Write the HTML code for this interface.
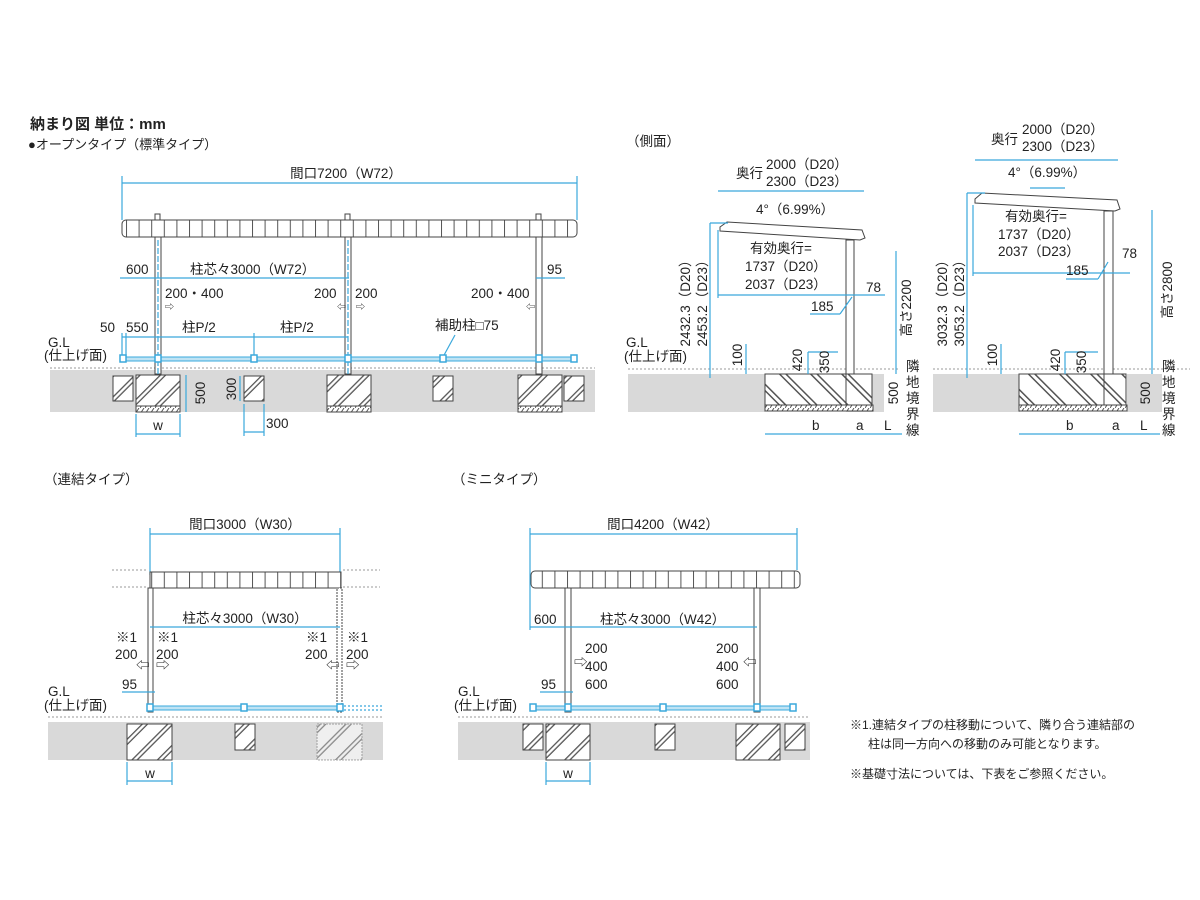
<!DOCTYPE html>
<html><head><meta charset="utf-8"><style>
html,body{margin:0;padding:0;background:#fff}
svg{display:block}
text{font-family:"Liberation Sans","Noto Sans CJK JP",sans-serif;fill:#222;font-size:13.5px}
.b{stroke:#3aa8dc;stroke-width:1.2;fill:none}
.k{stroke:#444;stroke-width:1;fill:none}
.g{fill:#d9d9d9}
.d{stroke:#999;stroke-width:1;stroke-dasharray:2 2;fill:none}
.sq{fill:#fff;stroke:#3aa8dc;stroke-width:1.5}
</style></head><body>
<svg width="1200" height="900" viewBox="0 0 1200 900" xmlns="http://www.w3.org/2000/svg">
<defs>
<pattern id="slat" width="12.6" height="20" patternUnits="userSpaceOnUse"><rect width="12.6" height="20" fill="#fff"/><line x1="0.5" y1="0" x2="0.5" y2="20" stroke="#555"/></pattern>
<pattern id="hat" width="18" height="18" patternUnits="userSpaceOnUse" patternTransform="rotate(45)"><rect width="18" height="18" fill="#fff"/><rect x="0" y="0" width="5" height="18" fill="#555"/><rect x="1.3" y="0" width="2.4" height="18" fill="#fff"/></pattern>
<pattern id="hat2" width="22" height="22" patternUnits="userSpaceOnUse" patternTransform="rotate(-45)"><rect width="22" height="22" fill="#fff"/><rect x="0" y="0" width="6" height="22" fill="#555"/><rect x="1.5" y="0" width="3" height="22" fill="#fff"/></pattern>
<pattern id="base" width="5" height="6" patternUnits="userSpaceOnUse"><rect width="5" height="6" fill="#fff"/><line x1="0" y1="6" x2="4" y2="0" stroke="#555"/></pattern>
</defs>

<text x="30" y="129" style="font-size:15px;font-weight:bold">納まり図 単位：mm</text>
<text x="28" y="149" style="font-size:13px">●オープンタイプ（標準タイプ）</text>

<!-- ===== Front view top ===== -->
<line class="b" x1="122" y1="183" x2="577" y2="183"/>
<line class="b" x1="122" y1="176" x2="122" y2="220"/><line class="b" x1="577" y1="176" x2="577" y2="220"/>
<text x="346" y="178" text-anchor="middle">間口7200（W72）</text>
<rect class="g" x="50" y="370" width="545" height="42"/>
<line class="d" x1="50" y1="368" x2="595" y2="368"/>
<rect x="122" y="220" width="455" height="17" fill="url(#slat)" stroke="#444" rx="4"/>
<rect x="155" y="214" width="5" height="6" class="k" fill="#fff"/><rect x="345" y="214" width="5" height="6" class="k"/><rect x="536" y="214" width="5" height="6" class="k"/>
<g fill="#fff" stroke="#444">
<rect x="155" y="237" width="6" height="137"/><rect x="345" y="237" width="6" height="137"/><rect x="536" y="237" width="6" height="137"/>
</g>
<line class="b" x1="158" y1="240" x2="158" y2="412" stroke-dasharray="6 2"/>
<line class="b" x1="348" y1="240" x2="348" y2="412" stroke-dasharray="6 2"/>
<line class="b" x1="120" y1="278" x2="349" y2="278"/><line class="b" x1="536" y1="278" x2="565" y2="278"/>
<text x="126" y="274">600</text><text x="190" y="274">柱芯々3000（W72）</text><text x="547" y="274">95</text>
<text x="165" y="298">200・400</text><text x="314" y="298">200</text><text x="355" y="298">200</text><text x="471" y="298">200・400</text>
<text x="165" y="310" style="font-size:9px">⇨</text><text x="337" y="310" style="font-size:9px">⇦</text><text x="356" y="310" style="font-size:9px">⇨</text><text x="526" y="310" style="font-size:9px">⇦</text>
<text x="100" y="332">50</text><text x="126" y="332">550</text><text x="182" y="332">柱P/2</text><text x="280" y="332">柱P/2</text><text x="435" y="330">補助柱□75</text>
<line class="b" x1="122" y1="337" x2="348" y2="337"/><line class="b" x1="254" y1="333" x2="254" y2="358"/>
<line class="b" x1="122" y1="333" x2="122" y2="358"/><line class="b" x1="126" y1="333" x2="126" y2="358"/>
<line class="b" x1="443" y1="357" x2="455" y2="335"/>
<text x="48" y="347">G.L</text><text x="44" y="360">(仕上げ面)</text>
<rect x="122" y="357" width="453" height="4" fill="#bfe3f4" stroke="#3aa8dc"/>
<g class="sq"><rect x="120" y="355" width="6" height="7"/><rect x="155" y="355" width="6" height="7"/><rect x="251" y="355" width="6" height="7"/><rect x="345" y="355" width="6" height="7"/><rect x="440" y="355" width="6" height="7"/><rect x="536" y="355" width="6" height="7"/><rect x="571" y="355" width="6" height="7"/></g>
<g stroke="#444">
<rect x="136" y="375" width="44" height="37" fill="url(#hat)"/><rect x="136" y="406" width="44" height="6" fill="url(#base)"/>
<rect x="327" y="375" width="44" height="37" fill="url(#hat)"/><rect x="327" y="406" width="44" height="6" fill="url(#base)"/>
<rect x="518" y="375" width="44" height="37" fill="url(#hat)"/><rect x="518" y="406" width="44" height="6" fill="url(#base)"/>
<rect x="113" y="376" width="20" height="25" fill="url(#hat)"/><rect x="244" y="376" width="20" height="25" fill="url(#hat)"/><rect x="433" y="376" width="20" height="25" fill="url(#hat)"/><rect x="564" y="376" width="20" height="25" fill="url(#hat)"/>
</g>
<text transform="translate(205,393) rotate(-90)" text-anchor="middle">500</text>
<text transform="translate(236,389) rotate(-90)" text-anchor="middle">300</text>
<line class="b" x1="186" y1="375" x2="186" y2="412"/><line class="b" x1="240" y1="376" x2="240" y2="401"/>
<text x="266" y="428">300</text><line class="b" x1="244" y1="432" x2="264" y2="432"/><line class="b" x1="244" y1="404" x2="244" y2="436"/><line class="b" x1="264" y1="404" x2="264" y2="436"/>
<line class="b" x1="136" y1="434" x2="180" y2="434"/><line class="b" x1="136" y1="414" x2="136" y2="437"/><line class="b" x1="180" y1="414" x2="180" y2="437"/>
<text x="158" y="430" text-anchor="middle">w</text>

<!-- ===== Side view 1 ===== -->
<text x="626" y="146">（側面）</text>
<text x="736" y="178">奥行</text><text x="766" y="169">2000（D20）</text><text x="766" y="186">2300（D23）</text>
<line class="b" x1="718" y1="191" x2="864" y2="191"/>
<text x="756" y="214">4°（6.99%）</text><line class="b" x1="774" y1="229" x2="810" y2="229"/>
<rect class="g" x="628" y="374" width="137" height="38"/><rect class="g" x="846" y="374" width="38" height="38"/>
<line class="d" x1="628" y1="369" x2="900" y2="369"/>
<polygon points="720,227 727,222 862,230 865,238 860,240 720,231" fill="#fff" stroke="#444"/>
<rect x="846" y="240" width="8" height="135" fill="#fff" stroke="#444"/>
<rect x="765" y="374" width="81" height="37" fill="url(#hat2)" stroke="#444"/><rect x="765" y="405" width="108" height="6" fill="url(#base)" stroke="#444"/>
<rect x="846" y="374" width="26" height="31" fill="url(#hat2)" stroke="#444"/>
<line class="b" x1="710" y1="223" x2="710" y2="378"/><line class="b" x1="710" y1="223" x2="728" y2="223"/>
<text transform="translate(690,300) rotate(-90)" text-anchor="middle">2432.3（D20）</text>
<text transform="translate(707,300) rotate(-90)" text-anchor="middle">2453.2（D23）</text>
<line class="b" x1="718" y1="295" x2="885" y2="295"/><line class="b" x1="718" y1="230" x2="718" y2="298"/>
<text x="750" y="253">有効奥行=</text><text x="745" y="271">1737（D20）</text><text x="745" y="289">2037（D23）</text>
<text x="866" y="292">78</text><text x="811" y="311">185</text><line class="b" x1="810" y1="314" x2="840" y2="314"/><line class="b" x1="840" y1="314" x2="852" y2="297"/>
<line class="b" x1="896" y1="251" x2="896" y2="374"/>
<text transform="translate(911,308) rotate(-90)" text-anchor="middle">高さ2200</text>
<text x="626" y="347">G.L</text><text x="624" y="361">(仕上げ面)</text>
<line class="b" x1="746" y1="344" x2="746" y2="374"/><text transform="translate(742,355) rotate(-90)" text-anchor="middle">100</text>
<line class="b" x1="808" y1="352" x2="838" y2="352"/><line class="b" x1="808" y1="352" x2="808" y2="374"/>
<text transform="translate(802,360) rotate(-90)" text-anchor="middle">420</text>
<text transform="translate(829,362) rotate(-90)" text-anchor="middle">350</text>
<text transform="translate(898,393) rotate(-90)" text-anchor="middle">500</text>
<g><text x="906" y="371">隣</text><text x="906" y="387">地</text><text x="906" y="403">境</text><text x="906" y="419">界</text><text x="906" y="435">線</text></g>
<line class="b" x1="765" y1="434" x2="902" y2="434"/>
<text x="812" y="430">b</text><text x="856" y="430">a</text><text x="884" y="430">L</text>

<!-- ===== Side view 2 ===== -->
<text x="991" y="144">奥行</text><text x="1022" y="134">2000（D20）</text><text x="1022" y="151">2300（D23）</text>
<line class="b" x1="975" y1="160" x2="1118" y2="160"/>
<text x="1008" y="177">4°（6.99%）</text><line class="b" x1="1030" y1="188" x2="1065" y2="188"/>
<rect class="g" x="933" y="374" width="87" height="38"/><rect class="g" x="1127" y="374" width="35" height="38"/>
<line class="d" x1="933" y1="369" x2="1190" y2="369"/>
<polygon points="975,199 982,193 1117,200 1120,209 1115,211 975,203" fill="#fff" stroke="#444"/>
<rect x="1104" y="211" width="9" height="164" fill="#fff" stroke="#444"/>
<rect x="1019" y="374" width="85" height="37" fill="url(#hat2)" stroke="#444"/><rect x="1019" y="405" width="108" height="6" fill="url(#base)" stroke="#444"/>
<rect x="1104" y="374" width="22" height="31" fill="url(#hat2)" stroke="#444"/>
<line class="b" x1="967" y1="193" x2="967" y2="378"/><line class="b" x1="967" y1="193" x2="985" y2="193"/>
<text transform="translate(947,300) rotate(-90)" text-anchor="middle">3032.3（D20）</text>
<text transform="translate(964,300) rotate(-90)" text-anchor="middle">3053.2（D23）</text>
<line class="b" x1="973" y1="273" x2="1130" y2="273"/><line class="b" x1="973" y1="205" x2="973" y2="276"/>
<text x="1005" y="221">有効奥行=</text><text x="998" y="239">1737（D20）</text><text x="998" y="256">2037（D23）</text>
<text x="1122" y="258">78</text><text x="1066" y="275">185</text><line class="b" x1="1066" y1="279" x2="1098" y2="279"/><line class="b" x1="1098" y1="279" x2="1108" y2="262"/>
<line class="b" x1="1152" y1="210" x2="1152" y2="374"/>
<text transform="translate(1172,290) rotate(-90)" text-anchor="middle">高さ2800</text>
<line class="b" x1="1001" y1="344" x2="1001" y2="374"/><text transform="translate(997,355) rotate(-90)" text-anchor="middle">100</text>
<line class="b" x1="1065" y1="352" x2="1098" y2="352"/><line class="b" x1="1065" y1="352" x2="1065" y2="374"/>
<text transform="translate(1060,360) rotate(-90)" text-anchor="middle">420</text>
<text transform="translate(1086,362) rotate(-90)" text-anchor="middle">350</text>
<text transform="translate(1150,393) rotate(-90)" text-anchor="middle">500</text>
<g><text x="1162" y="371">隣</text><text x="1162" y="387">地</text><text x="1162" y="403">境</text><text x="1162" y="419">界</text><text x="1162" y="435">線</text></g>
<line class="b" x1="1019" y1="434" x2="1160" y2="434"/>
<text x="1066" y="430">b</text><text x="1112" y="430">a</text><text x="1140" y="430">L</text>

<!-- ===== Renketsu ===== -->
<text x="44" y="484">（連結タイプ）</text>
<line class="b" x1="150" y1="534" x2="340" y2="534"/><line class="b" x1="150" y1="528" x2="150" y2="575"/><line class="b" x1="340" y1="528" x2="340" y2="575"/>
<text x="245" y="529" text-anchor="middle">間口3000（W30）</text>
<rect class="g" x="48" y="722" width="335" height="38"/>
<line class="d" x1="48" y1="717" x2="383" y2="717"/>
<line class="d" x1="112" y1="570" x2="148" y2="570"/><line class="d" x1="112" y1="587" x2="148" y2="587"/><line class="d" x1="343" y1="570" x2="380" y2="570"/><line class="d" x1="343" y1="587" x2="380" y2="587"/>
<rect x="150" y="572" width="191" height="16" fill="url(#slat)" stroke="#444"/>
<rect x="148" y="588" width="5" height="124" fill="#fff" stroke="#444"/><rect x="337" y="588" width="5" height="124" fill="#fff" stroke="#444" stroke-dasharray="2 1"/>
<line class="b" x1="150" y1="627" x2="340" y2="627"/>
<text x="245" y="623" text-anchor="middle">柱芯々3000（W30）</text>
<text x="116" y="642">※1</text><text x="157" y="642">※1</text><text x="306" y="642">※1</text><text x="347" y="642">※1</text>
<text x="115" y="659">200</text><text x="156" y="659">200</text><text x="305" y="659">200</text><text x="346" y="659">200</text>
<g style="font-size:9px"><text x="136" y="670">⇦</text><text x="156" y="670">⇨</text><text x="326" y="670">⇦</text><text x="346" y="670">⇨</text></g>
<text x="122" y="689">95</text><line class="b" x1="122" y1="692" x2="155" y2="692"/>
<text x="48" y="696">G.L</text><text x="44" y="710">(仕上げ面)</text>
<rect x="150" y="706" width="190" height="4" fill="#bfe3f4" stroke="#3aa8dc"/><line class="b" x1="340" y1="706" x2="382" y2="706" stroke-dasharray="2 2"/><line class="b" x1="340" y1="710" x2="382" y2="710" stroke-dasharray="2 2"/>
<g class="sq"><rect x="147" y="704" width="6" height="7"/><rect x="241" y="704" width="6" height="7"/><rect x="337" y="704" width="6" height="7"/></g>
<rect x="127" y="724" width="45" height="36" fill="url(#hat)" stroke="#444"/>
<rect x="235" y="724" width="20" height="26" fill="url(#hat)" stroke="#444"/>
<rect x="317" y="724" width="45" height="36" fill="url(#hat)" stroke="#777" stroke-dasharray="2 1" opacity="0.6"/>
<line class="b" x1="127" y1="781" x2="172" y2="781"/><line class="b" x1="127" y1="762" x2="127" y2="785"/><line class="b" x1="172" y1="762" x2="172" y2="785"/>
<text x="150" y="778" text-anchor="middle">w</text>

<!-- ===== Mini ===== -->
<text x="452" y="484">（ミニタイプ）</text>
<line class="b" x1="530" y1="534" x2="797" y2="534"/><line class="b" x1="530" y1="528" x2="530" y2="630"/><line class="b" x1="797" y1="528" x2="797" y2="570"/>
<text x="663" y="529" text-anchor="middle">間口4200（W42）</text>
<rect class="g" x="458" y="722" width="352" height="38"/>
<line class="d" x1="458" y1="717" x2="810" y2="717"/>
<rect x="531" y="571" width="269" height="17" fill="url(#slat)" stroke="#444" rx="4"/>
<rect x="565" y="588" width="6" height="124" fill="#fff" stroke="#444"/><rect x="754" y="588" width="6" height="124" fill="#fff" stroke="#444"/>
<line class="b" x1="530" y1="627" x2="757" y2="627"/>
<text x="534" y="624">600</text><text x="600" y="624">柱芯々3000（W42）</text>
<text x="585" y="653">200</text><text x="585" y="671">400</text><text x="585" y="689">600</text>
<text x="716" y="653">200</text><text x="716" y="671">400</text><text x="716" y="689">600</text>
<g style="font-size:9px"><text x="574" y="667">⇨</text><text x="743" y="667">⇦</text></g>
<text x="541" y="689">95</text><line class="b" x1="540" y1="692" x2="573" y2="692"/>
<text x="458" y="696">G.L</text><text x="454" y="710">(仕上げ面)</text>
<rect x="532" y="706" width="263" height="4" fill="#bfe3f4" stroke="#3aa8dc"/>
<g class="sq"><rect x="530" y="704" width="6" height="7"/><rect x="565" y="704" width="6" height="7"/><rect x="660" y="704" width="6" height="7"/><rect x="754" y="704" width="6" height="7"/><rect x="790" y="704" width="6" height="7"/></g>
<g stroke="#444">
<rect x="546" y="724" width="44" height="36" fill="url(#hat)"/><rect x="736" y="724" width="44" height="36" fill="url(#hat)"/>
<rect x="523" y="724" width="20" height="26" fill="url(#hat)"/><rect x="655" y="724" width="20" height="26" fill="url(#hat)"/><rect x="785" y="724" width="20" height="26" fill="url(#hat)"/>
</g>
<line class="b" x1="546" y1="781" x2="590" y2="781"/><line class="b" x1="546" y1="762" x2="546" y2="785"/><line class="b" x1="590" y1="762" x2="590" y2="785"/>
<text x="568" y="778" text-anchor="middle">w</text>

<!-- notes -->
<text x="850" y="729" style="font-size:12px">※1.連結タイプの柱移動について、隣り合う連結部の</text>
<text x="868" y="748" style="font-size:12px">柱は同一方向への移動のみ可能となります。</text>
<text x="850" y="778" style="font-size:12px">※基礎寸法については、下表をご参照ください。</text>
</svg>
</body></html>
